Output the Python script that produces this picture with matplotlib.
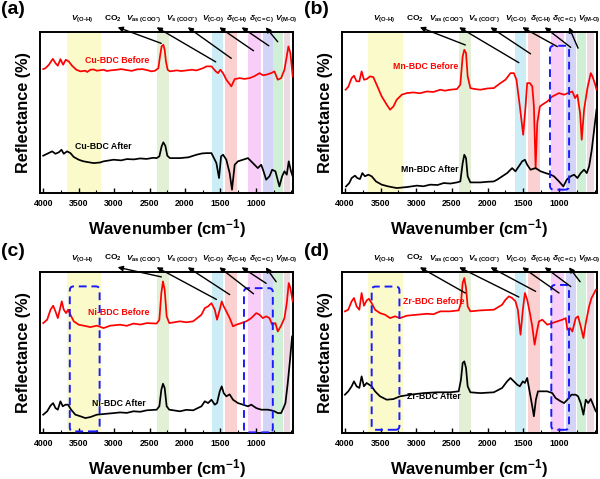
import matplotlib
matplotlib.use('Agg')
import matplotlib.pyplot as plt
from matplotlib.patches import FancyBboxPatch
from matplotlib.ticker import MultipleLocator

plt.rcParams['font.family'] = ['Liberation Sans', 'DejaVu Sans']
plt.rcParams['font.weight'] = 'bold'
plt.rcParams['axes.labelweight'] = 'bold'
plt.rcParams['mathtext.fontset'] = 'custom'
plt.rcParams['mathtext.rm'] = 'Liberation Sans:bold'
plt.rcParams['mathtext.it'] = 'Liberation Sans:bold:italic'
plt.rcParams['mathtext.bf'] = 'Liberation Sans:bold'

# ---------------- data (wavenumber cm-1, reflectance a.u.) ----------------
cu_before = [(4000,77.0),(3967,77.6),(3920,79.7),(3864,83.4),(3827,80.7),(3794,79.1),(3757,83.2),
             (3719,79.7),(3682,82.8),(3640,81.8),(3593,79.1),(3532,76.6),(3476,75.6),(3405,76.0),
             (3380,75.2),(3335,76.6),(3290,76.8),(3242,76.0),(3148,76.6),(3100,75.8),(3054,76.2),
             (2961,76.6),(2900,77.0),(2820,76.4),(2750,75.9),(2680,76.8),(2600,77.0),(2539,76.4),
             (2470,75.6),(2422,76.0),(2375,77.6),(2352,84.9),(2329,91.1),(2305,92.1),(2286,89.0),
             (2268,81.8),(2244,76.6),(2211,75.6),(2118,76.2),(2050,75.8),(1977,76.2),(1900,76.6),
             (1837,76.2),(1743,77.6),(1696,78.7),(1626,78.7),(1565,75.6),(1533,74.5),(1500,76.6),
             (1462,74.5),(1416,70.4),(1345,66.3),(1298,70.8),(1228,71.4),(1160,70.9),(1088,71.4),
             (1020,72.6),(947,74.5),(900,73.2),(854,73.5),(784,74.5),(737,75.6),(690,70.4),(643,71.4),
             (596,76.6),(563,84.9),(540,91.1),(512,87.0),(480,72.5)]
cu_after = [(4000,23.2),(3944,24.4),(3874,25.9),(3827,24.4),(3780,25.3),(3742,26.9),(3710,24.4),
            (3663,25.9),(3616,24.8),(3569,22.4),(3499,20.7),(3440,19.8),(3382,19.3),(3288,18.6),
            (3195,19.0),(3148,19.7),(3007,20.7),(2900,20.3),(2820,21.1),(2720,20.9),(2633,21.5),
            (2540,21.2),(2446,21.9),(2399,21.7),(2361,22.8),(2329,29.0),(2305,31.5),(2277,29.4),
            (2249,23.2),(2211,21.7),(2071,21.7),(1950,22.2),(1837,23.8),(1760,24.6),(1696,24.8),
            (1626,24.8),(1579,20.7),(1556,18.6),(1519,9.3),(1490,22.8),(1462,23.8),(1416,20.7),
            (1369,12.4),(1336,2.1),(1298,17.6),(1252,19.7),(1181,20.7),(1111,21.7),(1041,18.6),
            (971,15.5),(924,17.6),(891,13.5),(854,8.3),(807,10.4),(769,14.5),(723,13.5),(667,4.1),
            (629,10.4),(596,13.5),(563,11.4),(535,19.7),(503,13.5),(480,10.4)]

mn_before = [(3990,64.2),(3953,66.0),(3906,71.4),(3873,72.9),(3836,69.4),(3798,69.4),(3766,75.6),
             (3733,70.4),(3695,70.8),(3648,72.5),(3602,72.0),(3555,67.3),(3484,60.0),(3414,54.9),
             (3367,51.8),(3320,53.8),(3274,58.0),(3203,61.1),(3133,62.1),(3039,62.5),(2950,62.0),
             (2852,63.1),(2760,62.8),(2664,64.2),(2600,63.6),(2524,64.2),(2430,64.6),(2383,67.3),
             (2350,84.9),(2327,89.0),(2303,87.0),(2280,72.5),(2242,65.2),(2180,64.6),(2102,64.2),
             (2000,65.0),(1914,65.2),(1821,68.3),(1750,70.4),(1680,74.5),(1633,74.5),(1596,70.4),
             (1549,53.8),(1502,36.2),(1469,53.8),(1446,68.3),(1408,68.3),(1375,66.3),(1352,53.8),
             (1328,15.5),(1305,43.5),(1268,53.8),(1235,54.9),(1164,56.9),(1094,60.0),(1000,62.1),
             (930,61.1),(874,62.1),(813,63.1),(775,59.0),(743,61.1),(705,49.7),(682,33.1),(649,51.8),
             (602,65.2),(555,74.5),(532,72.5),(499,68.3),(475,64.2)]
mn_after = [(3985,4.1),(3939,6.2),(3906,9.3),(3859,10.8),(3827,9.3),(3789,8.7),(3756,12.4),
            (3719,10.4),(3672,11.4),(3625,10.4),(3564,7.2),(3484,5.2),(3391,4.1),(3274,3.1),
            (3133,3.7),(2992,4.6),(2900,4.2),(2805,5.2),(2700,5.0),(2617,6.2),(2520,5.9),(2430,6.6),
            (2383,7.2),(2350,18.6),(2327,23.8),(2303,21.7),(2280,10.4),(2242,6.6),(2102,6.6),
            (2000,7.0),(1914,7.2),(1867,8.3),(1727,12.4),(1657,15.5),(1610,13.5),(1563,16.6),
            (1516,19.7),(1478,20.7),(1446,17.6),(1399,14.5),(1328,15.5),(1258,13.5),(1188,12.4),
            (1117,11.4),(1071,10.4),(1000,7.2),(939,4.1),(892,8.3),(836,10.4),(789,11.4),(742,9.3),
            (696,12.4),(649,14.5),(611,12.4),(578,16.6),(541,26.9),(508,39.3),(475,51.8)]

ni_before = [(4000,68.3),(3944,70.4),(3897,76.6),(3860,79.1),(3827,75.6),(3794,71.4),(3766,76.6),
             (3738,81.8),(3710,76.6),(3677,74.5),(3649,76.6),(3616,73.5),(3569,69.4),(3499,67.3),
             (3429,66.7),(3335,65.8),(3242,66.7),(3148,65.2),(3054,66.7),(2914,67.3),(2820,66.6),
             (2727,68.0),(2630,67.4),(2539,68.3),(2399,68.0),(2361,70.4),(2333,87.0),(2310,94.2),
             (2286,89.0),(2258,72.5),(2221,68.3),(2071,69.4),(1980,68.8),(1884,69.4),(1767,73.5),
             (1720,77.6),(1673,78.7),(1626,80.7),(1579,76.6),(1547,70.4),(1509,76.6),(1481,81.8),
             (1453,78.7),(1416,75.6),(1369,71.4),(1322,66.3),(1275,67.3),(1205,68.3),(1135,69.4),
             (1064,71.4),(994,74.5),(947,73.5),(900,71.4),(854,72.5),(807,71.4),(769,67.3),(723,68.3),
             (690,63.1),(643,66.7),(596,71.4),(563,80.7),(535,93.2),(512,90.1),(480,81.8)]
ni_after = [(4000,11.4),(3944,13.5),(3897,17.0),(3860,18.6),(3827,15.5),(3794,14.5),(3757,19.7),
            (3724,16.6),(3686,17.6),(3649,17.6),(3607,14.5),(3546,11.4),(3476,10.4),(3405,9.3),
            (3335,9.9),(3242,11.4),(3101,12.0),(3000,12.4),(2914,12.8),(2820,12.5),(2727,13.5),
            (2630,13.2),(2539,14.1),(2399,14.5),(2361,16.6),(2333,26.9),(2310,30.6),(2286,28.0),
            (2258,16.6),(2221,14.5),(2071,13.5),(1980,14.4),(1884,14.1),(1767,16.6),(1720,19.7),
            (1673,18.6),(1626,20.7),(1579,17.6),(1547,18.6),(1509,25.9),(1481,29.0),(1453,24.8),
            (1416,22.8),(1369,24.0),(1322,20.7),(1252,18.6),(1181,17.6),(1111,16.6),(1064,17.6),
            (994,15.5),(924,14.5),(877,14.5),(830,14.5),(783,14.1),(737,13.5),(690,12.4),(643,12.4),
            (610,15.5),(582,18.6),(549,31.1),(517,45.5),(488,60.0),(470,61.1)]

zr_before = [(4000,75.6),(3953,76.6),(3906,81.8),(3873,83.9),(3836,78.7),(3798,76.6),(3766,87.0),
             (3733,79.1),(3695,82.4),(3663,83.4),(3625,80.7),(3578,76.6),(3508,74.5),(3438,73.5),
             (3367,71.4),(3297,72.5),(3227,71.4),(3133,72.9),(2992,73.5),(2852,74.1),(2760,73.8),
             (2664,75.6),(2524,75.6),(2406,76.2),(2374,80.7),(2350,93.2),(2327,96.3),(2303,90.1),
             (2280,78.7),(2242,75.6),(2102,76.2),(1914,76.6),(1797,79.7),(1750,82.8),(1703,84.9),
             (1657,83.9),(1610,81.8),(1577,76.6),(1539,61.1),(1507,76.6),(1478,87.0),(1446,82.8),
             (1408,74.5),(1375,66.3),(1342,54.9),(1314,62.1),(1281,69.4),(1234,70.4),(1164,67.3),
             (1094,68.3),(1024,69.4),(953,70.4),(906,71.4),(883,64.2),(846,65.2),(813,63.1),
             (766,71.4),(733,72.5),(696,66.3),(658,59.0),(625,68.3),(578,78.7),(545,83.9),(517,86.1),
             (485,89.0)]
zr_after = [(4000,23.8),(3953,25.9),(3906,29.0),(3873,32.1),(3836,29.0),(3798,28.0),(3766,35.2),
            (3733,29.0),(3695,31.1),(3658,30.0),(3625,29.0),(3578,25.9),(3508,22.8),(3414,20.7),
            (3320,21.1),(3227,22.8),(3086,23.8),(2899,24.8),(2711,25.3),(2524,25.3),(2406,25.9),
            (2374,33.1),(2350,43.5),(2327,44.5),(2303,40.4),(2280,29.0),(2242,25.3),(2102,24.8),
            (1914,25.3),(1797,28.0),(1727,32.1),(1680,34.2),(1633,32.1),(1586,30.0),(1549,29.0),
            (1507,32.1),(1478,31.1),(1446,34.2),(1408,24.8),(1375,16.6),(1352,10.4),(1324,20.7),
            (1295,25.9),(1234,25.9),(1164,25.9),(1094,24.8),(1047,21.7),(977,19.7),(930,18.6),
            (883,20.7),(827,23.8),(766,23.8),(733,22.8),(696,18.6),(658,11.4),(625,20.7),(592,18.6),
            (555,21.1),(522,17.6),(485,13.5)]

series_names = [('Cu-BDC Before', 'Cu-BDC After'), ('Mn-BDC Before', 'Mn-BDC After'),
                ('Ni-BDC Before', 'Ni-BDC After'), ('Zr-BDC Before', 'Zr-BDC After')]
panel_letters = ['(a)', '(b)', '(c)', '(d)']
xticks = [4000, 3500, 3000, 2500, 2000, 1500, 1000]

band_edges = [(3670, 3190), (2400, 2230), (1620, 1465), (1435, 1270),
              (1110, 925), (905, 762), (752, 615), (602, 513)]
band_colors = ['#fafacb', '#e3f0d6', '#cdedf6', '#fbd0d0', '#f8cef8', '#d4d4f6', '#d0efd7', '#ecd9e1']

mode_labels = [r'$V_{(\mathrm{O}\text{-}\mathrm{H})}$', r'$\mathrm{CO_2}$',
               r'$V_{\mathrm{as\ (COO^{-})}}$', r'$V_{\mathrm{s\ (COO^{-})}}$',
               r'$V_{(\mathrm{C}\text{-}\mathrm{O})}$', r'$\delta_{(\mathrm{C}\text{-}\mathrm{H})}$',
               r'$\delta_{\mathrm{(C=C)}}$', r'$V_{(\mathrm{M}\text{-}\mathrm{O})}$']
mode_label_wn = [3452, 3020, 2577, 2044, 1601, 1264, 920, 576]
arrow_head_wn = [2950, 2400, 1960, 1515, 1200, 860]
arrow_tails = [
    [(2334, 0.93), (1566, 0.815), (1346, 0.837), (1032, 0.884), (817, 0.915), (691, 0.94)],
    [(2313, 0.92), (1563, 0.81), (1399, 0.865), (1024, 0.91), (836, 0.905), (733, 0.90)],
    [(2333, 0.97), (1556, 0.83), (1369, 0.86), (1032, 0.865), (854, 0.93), (713, 0.94)],
    [(2313, 0.87), (1563, 0.845), (1328, 0.88), (1000, 0.87), (836, 0.91), (705, 0.94)],
]
# dashed highlight boxes: (wn_low, wn_high, y_low, y_high)
dash_boxes = [
    [],
    [(859, 1127, 2.1, 91.5)],
    [(3204, 3625, 1.0, 91.1), (760, 1167, 0.4, 90.0)],
    [(3236, 3625, 2.0, 91.0), (860, 1108, 2.0, 92.0)],
]
curve_label_pos = [((2961, 82.4), (3148, 29.0)), ((2875, 78.7), (2805, 14.5)),
                   ((2937, 75.0), (2937, 18.6)), ((2758, 81.8), (2758, 22.8))]
curves = [(cu_before, cu_after), (mn_before, mn_after), (ni_before, ni_after), (zr_before, zr_after)]

# ---------------- figure ----------------
fig = plt.figure(figsize=(6.0, 4.79), dpi=100)
ax_pos = [[0.0667, 0.597, 0.422, 0.336], [0.5695, 0.597, 0.425, 0.336],
          [0.0667, 0.096, 0.422, 0.336], [0.5695, 0.096, 0.425, 0.336]]
letter_pos = [(0.002, 0.997), (0.506, 0.997), (0.002, 0.492), (0.506, 0.492)]

for i in range(4):
    ax = fig.add_axes(ax_pos[i])
    ax.set_xlim(4045, 472)
    ax.set_ylim(0, 100)
    for (w1, w2), col in zip(band_edges, band_colors):
        ax.axvspan(w2, w1, color=col, lw=0, zorder=0)
    before, after = curves[i]
    ax.plot([p[0] for p in before], [p[1] for p in before], color='#ff0000', lw=1.25, zorder=3)
    ax.plot([p[0] for p in after], [p[1] for p in after], color='black', lw=1.25, zorder=3)
    (bx, by), (axx, ayy) = curve_label_pos[i]
    ax.text(bx, by, series_names[i][0], color='#ff0000', fontsize=6.3, fontweight='bold',
            ha='center', va='center', zorder=4)
    ax.text(axx, ayy, series_names[i][1], color='black', fontsize=6.3, fontweight='bold',
            ha='center', va='center', zorder=4)
    for (wl, wh, yl, yh) in dash_boxes[i]:
        box = FancyBboxPatch((wl, yl), wh - wl, yh - yl,
                             boxstyle='round,pad=0,rounding_size=55', mutation_aspect=0.045,
                             fc='none', ec='#1a1aff', lw=1.4, ls=(0, (4, 2.5)), zorder=5)
        ax.add_patch(box)
    for txt, wn in zip(mode_labels, mode_label_wn):
        ax.text(wn, 1.085, txt, transform=ax.get_xaxis_transform(), fontsize=6.0,
                ha='center', va='center', clip_on=False)
    for hw, (tw, ty) in zip(arrow_head_wn, arrow_tails[i]):
        ax.annotate('', xy=(hw, 1.03), xytext=(tw, ty), xycoords=ax.get_xaxis_transform(),
                    textcoords=ax.get_xaxis_transform(), annotation_clip=False,
                    arrowprops=dict(arrowstyle='-|>', color='black', lw=1.0,
                                    mutation_scale=7.5, shrinkA=0, shrinkB=0), zorder=6)
    ax.set_xticks(xticks)
    ax.xaxis.set_minor_locator(MultipleLocator(250))
    ax.set_yticks([])
    ax.tick_params(axis='x', which='major', direction='in', length=3.5, width=1.0,
                   labelsize=6.3, pad=4)
    ax.tick_params(axis='x', which='minor', direction='in', length=2, width=0.8)
    for lab in ax.get_xticklabels():
        lab.set_fontweight('bold')
    for s in ax.spines.values():
        s.set_linewidth(1.4)
    ax.set_xlabel('Wavenumber (cm$^{-1}$)', fontsize=11.9, fontweight='bold')
    ax.xaxis.set_label_coords(0.5, -0.15)
    ax.set_ylabel('Reflectance (%)', fontsize=11.7, fontweight='bold')
    ax.yaxis.set_label_coords(-0.035, 0.5)
    fig.text(letter_pos[i][0], letter_pos[i][1], panel_letters[i], fontsize=14,
             fontweight='bold', ha='left', va='top')

fig.savefig('out.png', dpi=100)
